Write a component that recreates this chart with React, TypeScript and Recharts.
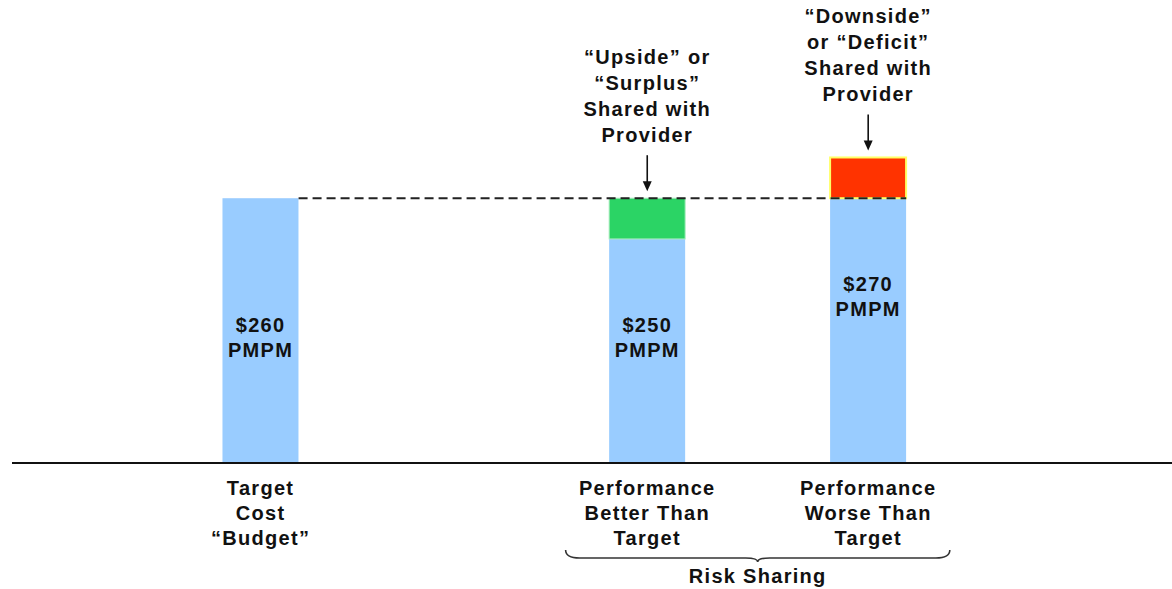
import { BarChart, Bar, XAxis, YAxis, ReferenceLine, ReferenceDot, ReferenceArea } from 'recharts';

// Schematic of a shared-savings contract: target budget vs. actual cost per member per month.
const categories = ['Target\nCost\n“Budget”', 'Performance\nBetter Than\nTarget', 'Performance\nWorse Than\nTarget'];
const baseCost = [260, 250, 260];
const surplus = [0, 10, 0];
const deficit = [0, 0, 10];
const costLabels = ['$260', '$250', '$270'];
const unitLabel = 'PMPM';
const targetCost = 260;
const upsideNote = ['“Upside” or', '“Surplus”', 'Shared with', 'Provider'];
const downsideNote = ['“Downside”', 'or “Deficit”', 'Shared with', 'Provider'];
const groupLabel = 'Risk Sharing';

// layout: the bars sit in slots of an evenly spaced band axis
const SLOT_COUNT = 21;
const CATEGORY_SLOTS = [4, 11, 15];
const BAR_SIZE = 76;
const FONT = "'Liberation Sans', Arial, sans-serif";
const TEXT = { fontFamily: FONT, fontWeight: 700, fontSize: 20, letterSpacing: 1.3, fill: '#111' };

const rows = Array.from({ length: SLOT_COUNT }, (_, i) => {
  const k = CATEGORY_SLOTS.indexOf(i);
  if (k < 0) return { name: `gap-${i}` };
  return { name: categories[k], base: baseCost[k], surplus: surplus[k], deficit: deficit[k] };
});

const totals = baseCost.map((v, i) => v + surplus[i] + deficit[i]);

// the bars are wider than one slot, so draw them centred on the slot
function wideBar(fill: string, stroke?: string, strokeWidth = 0) {
  return ({ x, y, width, height }: any) => {
    if (!height || height <= 0) return <g />;
    return (
      <rect
        x={x + width / 2 - BAR_SIZE / 2}
        y={y}
        width={BAR_SIZE}
        height={height}
        fill={fill}
        stroke={stroke ?? 'none'}
        strokeWidth={strokeWidth}
      />
    );
  };
}

function CategoryTick({ x, y, payload }: any) {
  const value = String(payload?.value ?? '');
  if (value.startsWith('gap-')) return null;
  return (
    <text x={x} y={y} textAnchor="middle" style={TEXT}>
      {value.split('\n').map((line, i) => (
        <tspan key={i} x={x} dy={i === 0 ? 30 : 25}>{line}</tspan>
      ))}
    </text>
  );
}

function costLabel(k: number) {
  return ({ cx, cy }: any) => (
    <g>
      <text x={cx} y={cy + 134} textAnchor="middle" style={TEXT}>{costLabels[k]}</text>
      <text x={cx} y={cy + 159} textAnchor="middle" style={TEXT}>{unitLabel}</text>
    </g>
  );
}

function noteWithArrow(lines: string[]) {
  return ({ cx, cy }: any) => {
    const tip = cy - 7;
    return (
      <g>
        {lines.map((line, i) => (
          <text key={i} x={cx} y={cy - 56 - 26 * (lines.length - 1 - i)} textAnchor="middle" style={TEXT}>
            {line}
          </text>
        ))}
        <line x1={cx} y1={cy - 43} x2={cx} y2={tip - 8} stroke="#111" strokeWidth={1.6} />
        <polygon points={`${cx - 4.5},${tip - 10} ${cx + 4.5},${tip - 10} ${cx},${tip}`} fill="#111" />
      </g>
    );
  };
}

// ReferenceArea spans from the start of the first band to the end of the last one
function RiskBrace({ x, y, width, height }: any) {
  const bottom = y + height;
  const left = x - 54;
  const right = x + width + 54;
  const mid = x + width / 2;
  const top = bottom + 87;
  const flat = bottom + 95;
  const tip = bottom + 99;
  const d = `M${left},${top} Q${left},${flat} ${left + 14},${flat} L${mid - 12},${flat} Q${mid},${flat} ${mid},${tip} Q${mid},${flat} ${mid + 12},${flat} L${right - 14},${flat} Q${right},${flat} ${right},${top}`;
  return (
    <g>
      <path d={d} fill="none" stroke="#333" strokeWidth={1.6} />
      <text x={mid} y={bottom + 120} textAnchor="middle" style={TEXT}>{groupLabel}</text>
    </g>
  );
}

function TargetLine({ x1, y1, x2, y2 }: any) {
  return (
    <line
      x1={x1 + BAR_SIZE / 2}
      y1={y1}
      x2={x2 + BAR_SIZE / 2}
      y2={y2}
      stroke="#222"
      strokeWidth={2}
      strokeDasharray="9 5"
    />
  );
}

export default function App() {
  return (
    <div style={{ position: 'absolute', left: 0, top: 0, background: '#fff' }}>
      <BarChart width={1172} height={589} data={rows} margin={{ top: 76, right: 0, bottom: 26, left: 12 }}>
        <XAxis
          dataKey="name"
          interval={0}
          height={100}
          tickLine={false}
          tickSize={0}
          axisLine={{ stroke: '#111', strokeWidth: 2 }}
          tick={<CategoryTick />}
        />
        <YAxis hide domain={[195, 290]} allowDataOverflow />
        <Bar dataKey="base" stackId="cost" fill="#99CCFF" shape={wideBar('#99CCFF')} isAnimationActive={false} />
        <Bar
          dataKey="surplus"
          stackId="cost"
          fill="#2BD465"
          shape={wideBar('#2BD465', '#A8EDBE', 1)}
          isAnimationActive={false}
        />
        <Bar
          dataKey="deficit"
          stackId="cost"
          fill="#FF3300"
          shape={wideBar('#FF3300', '#FFFF66', 2)}
          isAnimationActive={false}
        />
        <ReferenceLine
          segment={[
            { x: categories[0], y: targetCost },
            { x: categories[2], y: targetCost },
          ]}
          shape={<TargetLine />}
          isFront
        />
        {categories.map((c, k) => (
          <ReferenceDot key={c} x={c} y={totals[k]} r={0} shape={costLabel(k)} isFront />
        ))}
        <ReferenceDot x={categories[1]} y={baseCost[1] + surplus[1]} r={0} shape={noteWithArrow(upsideNote)} isFront />
        <ReferenceDot x={categories[2]} y={totals[2]} r={0} shape={noteWithArrow(downsideNote)} isFront />
        <ReferenceArea x1={categories[1]} x2={categories[2]} shape={<RiskBrace />} isFront />
      </BarChart>
    </div>
  );
}
